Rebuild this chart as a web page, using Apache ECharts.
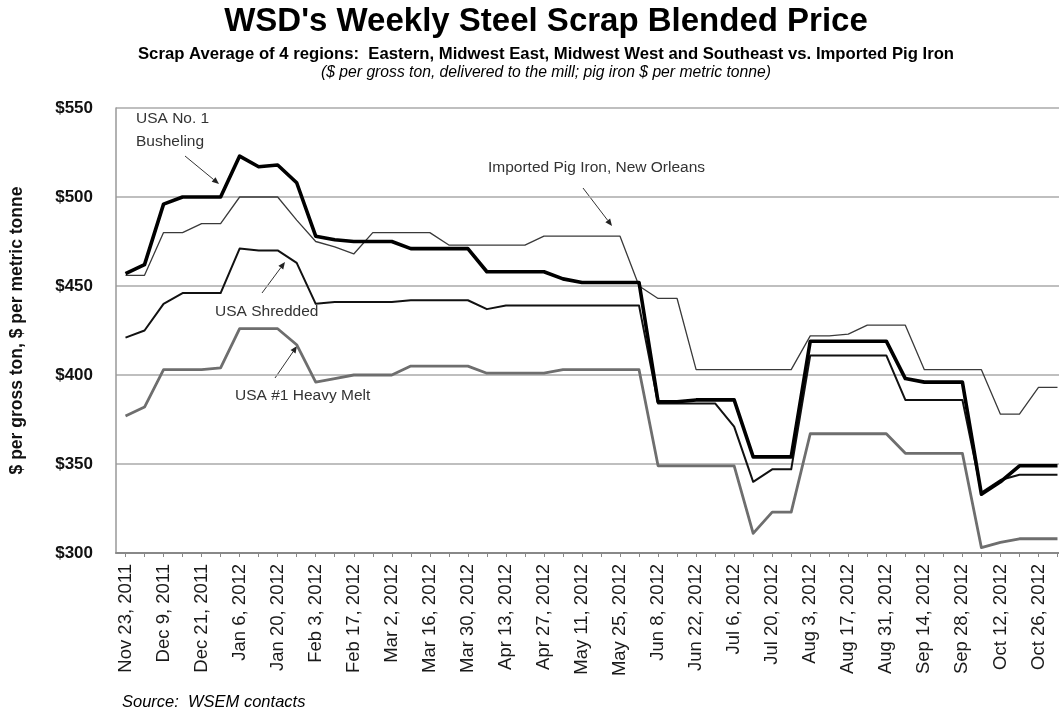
<!DOCTYPE html>
<html>
<head>
<meta charset="utf-8">
<script src="https://cdn.jsdelivr.net/npm/echarts@6/dist/echarts.min.js"></script>
<style>
html,body{margin:0;padding:0;background:#fff;overflow:hidden;}
#chart{width:1067px;height:711px;}
</style>
</head>
<body>
<div id="chart"></div>
<script>
const categories = [
  'Nov 23, 2011','Dec 1, 2011','Dec 9, 2011','Dec 15, 2011','Dec 21, 2011','Dec 30, 2011',
  'Jan 6, 2012','Jan 13, 2012','Jan 20, 2012','Jan 27, 2012','Feb 3, 2012','Feb 10, 2012',
  'Feb 17, 2012','Feb 24, 2012','Mar 2, 2012','Mar 9, 2012','Mar 16, 2012','Mar 23, 2012',
  'Mar 30, 2012','Apr 6, 2012','Apr 13, 2012','Apr 20, 2012','Apr 27, 2012','May 4, 2012',
  'May 11, 2012','May 18, 2012','May 25, 2012','Jun 1, 2012','Jun 8, 2012','Jun 15, 2012',
  'Jun 22, 2012','Jun 29, 2012','Jul 6, 2012','Jul 13, 2012','Jul 20, 2012','Jul 27, 2012',
  'Aug 3, 2012','Aug 10, 2012','Aug 17, 2012','Aug 24, 2012','Aug 31, 2012','Sep 7, 2012',
  'Sep 14, 2012','Sep 21, 2012','Sep 28, 2012','Oct 5, 2012','Oct 12, 2012','Oct 19, 2012',
  'Oct 26, 2012','Nov 2, 2012'
];

const busheling = [457,462,496,500,500,500,523,517,518,508,478,476,475,475,475,471,471,471,471,458,
  458,458,458,454,452,452,452,452,385,385,386,386,386,354,354,354,419,419,419,419,
  419,398,396,396,396,333,340,349,349,349];

const shredded = [421,425,440,446,446,446,471,470,470,463,440,441,441,441,441,442,442,442,442,437,
  439,439,439,439,439,439,439,439,384,384,384,384,371,340,347,347,411,411,411,411,
  411,386,386,386,386,334,341,344,344,344];

const heavyMelt = [377,382,403,403,403,404,426,426,426,417,396,398,400,400,400,405,405,405,405,401,
  401,401,401,403,403,403,403,403,349,349,349,349,349,311,323,323,367,367,367,367,
  367,356,356,356,356,303,306,308,308,308];

const pigIron = [456,456,480,480,485,485,500,500,500,487,475,472,468,480,480,480,480,473,473,473,
  473,473,478,478,478,478,478,450,443,443,403,403,403,403,403,403,422,422,423,428,
  428,428,403,403,403,403,378,378,393,393];

const yMin = 300, yMax = 550, yStep = 50;

const FONT = "'Liberation Sans', Arial, sans-serif";
const chart = echarts.init(document.getElementById('chart'), null, {renderer: 'canvas'});

function arrowGroup(x1, y1, x2, y2) {
  const ang = Math.atan2(y2 - y1, x2 - x1);
  const L = 7, W = 3;
  const bx = x2 - L * Math.cos(ang), by = y2 - L * Math.sin(ang);
  const px = -Math.sin(ang) * W, py = Math.cos(ang) * W;
  return [
    {type: 'line', shape: {x1: x1, y1: y1, x2: bx, y2: by}, style: {stroke: '#333', lineWidth: 1}},
    {type: 'polygon', shape: {points: [[x2, y2], [bx + px, by + py], [bx - px, by - py]]}, style: {fill: '#222'}}
  ];
}

const annoText = (x, y, text) => ({
  type: 'text', left: x, top: y,
  style: {text: text, font: "15.5px " + FONT, fill: '#333', lineHeight: 23}
});

const centerText = (y, text, font) => ({
  type: 'text', x: 546, y: y,
  style: {text: text, font: font, fill: '#000', textAlign: 'center', textVerticalAlign: 'top'}
});

const graphics = [
  centerText(5, "WSD's Weekly Steel Scrap Blended Price", "bold 33px " + FONT),
  centerText(46, "Scrap Average of 4 regions:  Eastern, Midwest East, Midwest West and Southeast vs. Imported Pig Iron", "bold 16.7px " + FONT),
  centerText(65, "($ per gross ton, delivered to the mill; pig iron $ per metric tonne)", "italic 15.7px " + FONT),
  {type: 'text', left: 122, top: 694,
   style: {text: "Source:  WSEM contacts", font: "italic 16.5px " + FONT, fill: '#000'}},
  annoText(136, 107, "USA No. 1\nBusheling"),
  annoText(488, 156, "Imported Pig Iron, New Orleans"),
  annoText(215, 300, "USA Shredded"),
  annoText(235, 384, "USA #1 Heavy Melt")
]
.concat(arrowGroup(185, 156, 219, 184))
.concat(arrowGroup(583, 188, 612, 226))
.concat(arrowGroup(262, 293, 285, 262))
.concat(arrowGroup(275, 378, 297, 346));

const lineSeries = (name, data, color, width, z) => ({
  name: name, type: 'line', data: data, symbol: 'none', smooth: false, z: z,
  lineStyle: {color: color, width: width, join: 'round'}, animation: false
});

chart.setOption({
  backgroundColor: '#fff',
  animation: false,
  grid: {left: 116, right: 0, top: 108, bottom: 158, containLabel: false},
  xAxis: {
    type: 'category', data: categories, boundaryGap: true,
    axisLine: {show: true, lineStyle: {color: '#888', width: 2}},
    axisTick: {show: true, interval: 0, alignWithLabel: true, length: 4, lineStyle: {color: '#888', width: 1}},
    axisLabel: {interval: 1, rotate: 90, color: '#1a1a1a', fontSize: 18.5, fontFamily: FONT, margin: 11},
    splitLine: {show: false}
  },
  yAxis: {
    type: 'value', min: yMin, max: yMax, interval: yStep,
    name: '$ per gross ton, $ per metric tonne', nameLocation: 'middle', nameGap: 90,
    nameTextStyle: {fontWeight: 'bold', fontSize: 17.5, color: '#111', fontFamily: FONT},
    axisLine: {show: true, lineStyle: {color: '#999', width: 1.5}},
    axisTick: {show: false},
    axisLabel: {formatter: v => '$' + v, fontWeight: 'bold', fontSize: 17, color: '#111', fontFamily: FONT, margin: 23},
    splitLine: {show: true, lineStyle: {color: '#aaa', width: 1.5}}
  },
  series: [
    lineSeries('USA #1 Heavy Melt', heavyMelt, '#6e6e6e', 2.8, 2),
    lineSeries('Imported Pig Iron, New Orleans', pigIron, '#3a3a3a', 1.3, 3),
    lineSeries('USA Shredded', shredded, '#111', 2.0, 4),
    lineSeries('USA No. 1 Busheling', busheling, '#000', 3.6, 5)
  ],
  graphic: graphics
});
</script>
</body>
</html>
